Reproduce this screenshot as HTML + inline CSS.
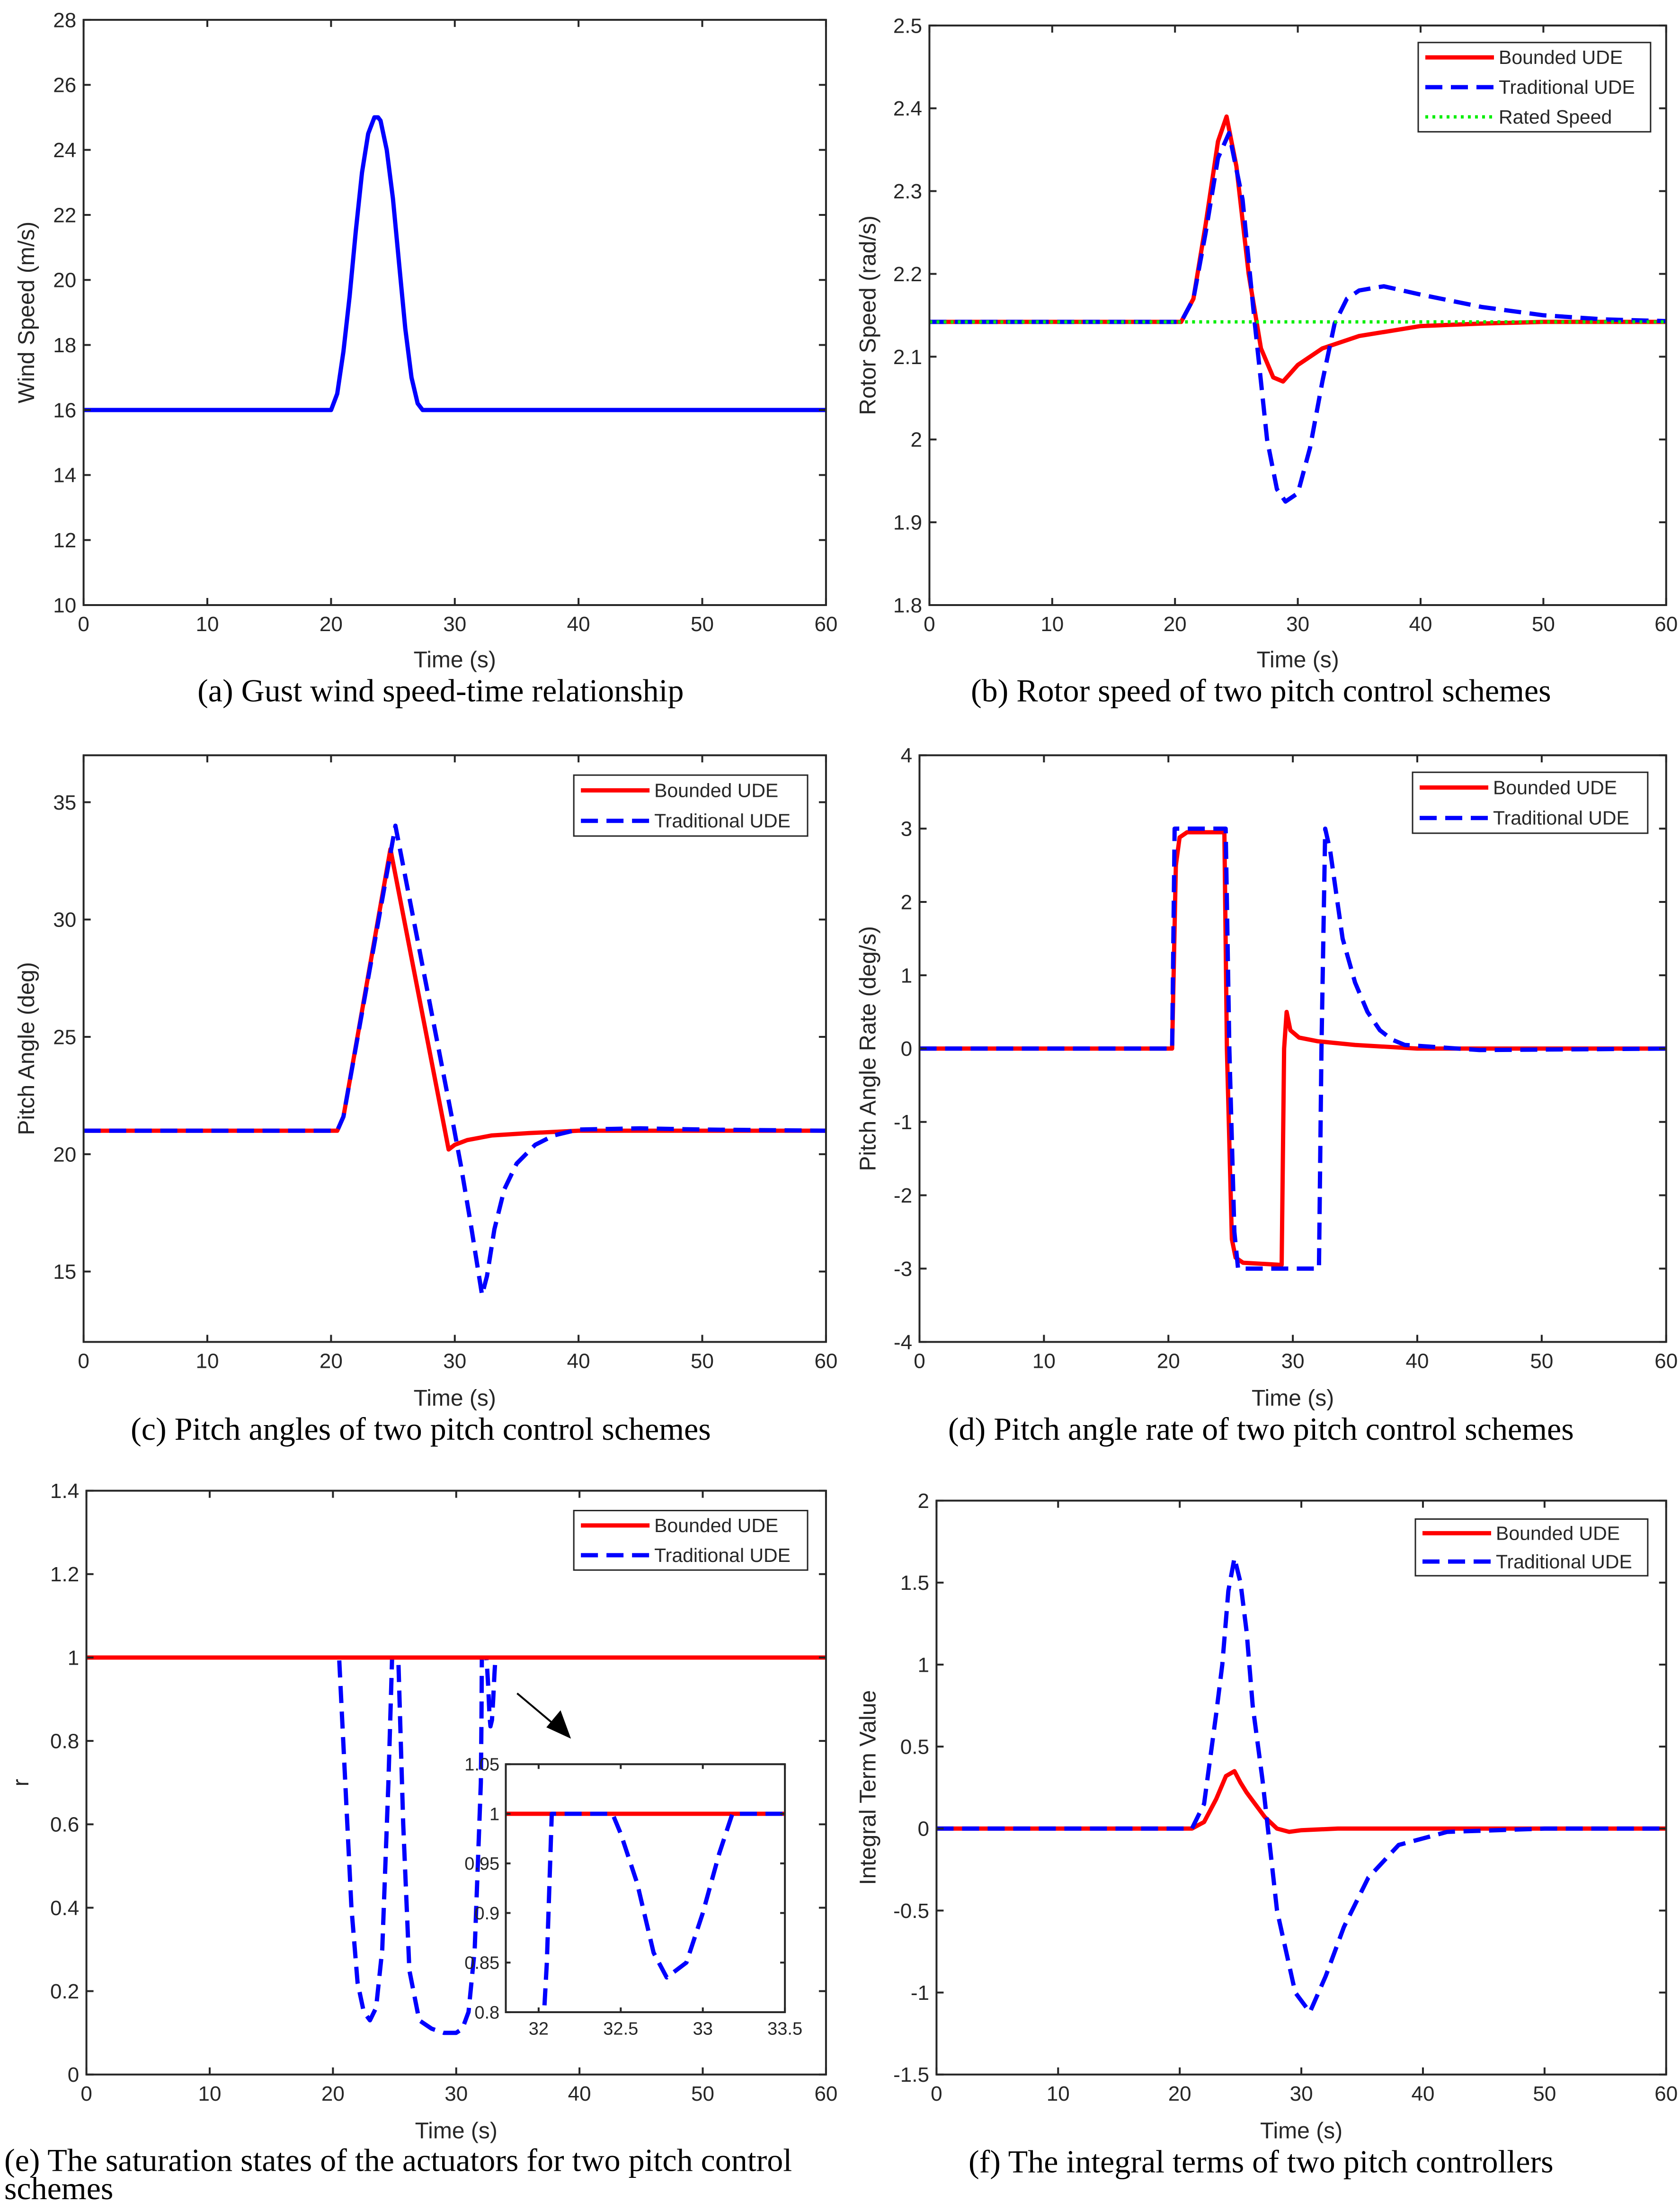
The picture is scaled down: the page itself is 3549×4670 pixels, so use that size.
<!DOCTYPE html>
<html><head><meta charset="utf-8">
<style>
html,body{margin:0;padding:0;background:#fff;overflow:hidden;width:3549px;height:4670px;}
svg{display:block;}
text{font-family:"Liberation Sans",sans-serif;fill:#262626;}
.cap{font-family:"Liberation Serif",serif;fill:#000;}
</style></head>
<body>
<svg id="fig" width="3549" height="4670" viewBox="0 0 3549 4670" xmlns="http://www.w3.org/2000/svg"></svg>
<script>
// ---- data ----
const windT=[0,20,20.5,21,21.5,22,22.5,23,23.5,23.8,24,24.5,25,25.5,26,26.5,27,27.4,60];
const windV=[16,16,16.5,17.8,19.5,21.5,23.3,24.5,25,25,24.9,24,22.5,20.5,18.5,17,16.2,16,16];

const rotBT=[0,20.5,21.5,22.5,23.5,24.2,25,26,27,28,28.8,30,32,35,40,45,50,60];
const rotBV=[2.142,2.142,2.17,2.26,2.36,2.39,2.33,2.2,2.11,2.075,2.07,2.09,2.11,2.125,2.137,2.14,2.142,2.142];
const rotTT=[0,20.5,21.5,22.5,23.5,24.4,25.5,26.5,27.5,28.3,29,30,31,32,33,34,35,37,40,45,50,55,60];
const rotTV=[2.142,2.142,2.17,2.25,2.34,2.37,2.29,2.14,2.0,1.94,1.925,1.935,1.99,2.07,2.14,2.17,2.18,2.185,2.175,2.16,2.15,2.145,2.143];
const ratedT=[0,60];
const ratedV=[2.142,2.142];

const pitBT=[0,20.5,21,24.8,29.5,30,31,33,36,40,60];
const pitBV=[21,21,21.6,33,20.2,20.4,20.6,20.8,20.9,21,21];
const pitTT=[0,20.5,21,25.2,29.9,30.5,31.3,31.9,32.2,32.6,33.2,34,35,36.5,38,40,45,50,60];
const pitTV=[21,21,21.6,34,21.2,19.5,17,15,14,14.8,16.8,18.5,19.6,20.4,20.8,21.05,21.1,21.05,21];

const rateBT=[0,20.3,20.6,20.9,21.5,24.5,24.7,25.1,25.4,26,29.1,29.3,29.5,29.8,30.5,32,35,40,60];
const rateBV=[0,0,2.5,2.88,2.95,2.95,0,-2.6,-2.85,-2.92,-2.95,0,0.5,0.25,0.15,0.1,0.05,0,0];
const rateTT=[0,20.3,20.5,24.6,24.9,25.3,25.6,32.1,32.3,32.6,33,33.5,34,35,36,37,38,39,45,60];
const rateTV=[0,0,3,3,0,-2.5,-3,-3,0,3,2.7,2.1,1.5,0.9,0.5,0.25,0.12,0.05,-0.02,0];

const satBT=[0,60];
const satBV=[1,1];
const satTT=[0,20.5,21,21.5,22,22.5,23,23.5,24,24.5,24.8,25.3,25.7,26.2,27,28,29,30,30.5,31,31.5,32,32.05,32.08,32.45,32.5,32.6,32.7,32.78,32.9,33,33.1,33.18,60];
const satTV=[1,1,0.7,0.4,0.22,0.15,0.13,0.16,0.3,0.7,1,1,0.6,0.25,0.13,0.11,0.1,0.1,0.11,0.15,0.3,0.7,0.85,1,1,0.98,0.93,0.86,0.835,0.85,0.9,0.96,1,1];

const intBT=[0,21,22,23,23.8,24.5,25,25.5,26,27,28,29,30,33,60];
const intBV=[0,0,0.04,0.18,0.32,0.35,0.28,0.22,0.17,0.07,0,-0.02,-0.01,0,0];
const intTT=[0,21,22,23,23.5,24,24.5,25,25.5,26,26.8,28,29.5,30.7,32,33.5,35.5,38,42,50,60];
const intTV=[0,0,0.15,0.7,1.0,1.45,1.65,1.5,1.2,0.75,0.3,-0.5,-1.0,-1.12,-0.9,-0.6,-0.3,-0.1,-0.02,0,0];

const xTicks=[0,10,20,30,40,50,60];
const yTicksA=[10,12,14,16,18,20,22,24,26,28];
const yTicksB=[1.8,1.9,2,2.1,2.2,2.3,2.4,2.5];
const yTicksC=[15,20,25,30,35];
const yTicksD=[-4,-3,-2,-1,0,1,2,3,4];
const yTicksE=[0,0.2,0.4,0.6,0.8,1,1.2,1.4];
const yTicksF=[-1.5,-1,-0.5,0,0.5,1,1.5,2];
const insetXTicks=[32,32.5,33,33.5];
const insetYTicks=[0.8,0.85,0.9,0.95,1,1.05];

// ---- rendering ----
const S=2.993, NS="http://www.w3.org/2000/svg";
const svg=document.getElementById('fig');
function mk(tag,attrs,parent){const e=document.createElementNS(NS,tag);for(const k in attrs)e.setAttribute(k,attrs[k]);(parent||svg).appendChild(e);return e;}
function fmt(v){return String(Math.round(v*1000)/1000);}
let clipId=0;
function axes(o){
  const g=mk('g',{});
  
  
  const L=o.l*S,R=o.r*S,T=o.t*S,B=o.b*S;
  const sx=v=>L+(v-o.x0)/(o.x1-o.x0)*(R-L);
  const sy=v=>B-(v-o.y0)/(o.y1-o.y0)*(B-T);
  const fs=o.fs||44;
  mk('rect',{x:L,y:T,width:R-L,height:B-T,fill:'#fff'},g);
  const cid='c'+(clipId++);
  const cp=mk('clipPath',{id:cid},g);mk('rect',{x:L,y:T,width:R-L,height:B-T},cp);
  const pg=mk('g',{'clip-path':`url(#${cid})`},g);
  for(const s of o.series){
    const d=s.t.map((t,i)=>(i?'L':'M')+sx(t).toFixed(1)+' '+sy(s.v[i]).toFixed(1)).join(' ');
    const p=mk('path',{d:d,fill:'none',stroke:s.c,'stroke-width':s.w||9,'stroke-dasharray':s.dash||'none','stroke-linejoin':'round'},pg);
    
    
  }
  const tl=o.tl||15;
  for(const v of o.xt){const x=sx(v);
    mk('line',{x1:x,y1:B,x2:x,y2:B-tl,stroke:'#262626','stroke-width':4},g);
    mk('line',{x1:x,y1:T,x2:x,y2:T+tl,stroke:'#262626','stroke-width':4},g);
    const t=mk('text',{x:x,y:B+fs*1.25,'font-size':fs,'text-anchor':'middle'},g);t.textContent=fmt(v);
    }
  for(const v of o.yt){const y=sy(v);
    mk('line',{x1:L,y1:y,x2:L+tl,y2:y,stroke:'#262626','stroke-width':4},g);
    mk('line',{x1:R,y1:y,x2:R-tl,y2:y,stroke:'#262626','stroke-width':4},g);
    const t=mk('text',{x:L-fs*0.35,y:y+fs*0.35,'font-size':fs,'text-anchor':'end'},g);t.textContent=fmt(v);
    }
  mk('rect',{x:L,y:T,width:R-L,height:B-T,fill:'none',stroke:'#262626','stroke-width':4},g);
  if(o.xlabel){const t=mk('text',{x:(L+R)/2,y:o.xly*S,'font-size':48,'text-anchor':'middle'},g);t.textContent=o.xlabel;
    }
  if(o.ylabel){const cx=o.ylx*S,cy=(T+B)/2;const t=mk('text',{x:cx,y:cy,'font-size':48,'text-anchor':'middle',transform:`rotate(-90 ${cx} ${cy})`},g);t.textContent=o.ylabel;
    }
  if(o.legend){const lg=o.legend;const lx=lg.l*S,ly=lg.t*S,lw=(lg.r-lg.l)*S,lh=(lg.b-lg.t)*S;
    const gg=mk('g',{},g);
    mk('rect',{x:lx,y:ly,width:lw,height:lh,fill:'#fff',stroke:'#262626','stroke-width':3},gg);
    const n=o.series.length,rh=lh/n;
    o.series.forEach((s,i)=>{const yy=ly+rh*(i+0.5);
      mk('line',{x1:lx+15,y1:yy,x2:lx+160,y2:yy,stroke:s.c,'stroke-width':s.w||9,'stroke-dasharray':s.dash||'none'},gg);
      const t=mk('text',{x:lx+170,y:yy+14,'font-size':41},gg);t.textContent=s.label;
      });
  }
  return g;
}
function caption(txt,x,y,anchor,name){const t=mk('text',{x:x*S,y:y*S,'font-size':68,'text-anchor':anchor||'middle',class:'cap'});t.textContent=txt;
  }

const RED='#ff0000',BLUE='#0000ff',GREEN='#00ee00',DASH='36 18',DOT='6 9';

axes({name:'panel-a-wind-speed',l:59,r:583,t:14,b:427,x0:0,x1:60,y0:10,y1:28,xt:xTicks,yt:yTicksA,xlabel:'Time (s)',xly:471,ylabel:'Wind Speed (m/s)',ylx:24,
  series:[{name:'wind-speed-line',t:windT,v:windV,c:BLUE}]});
caption('(a)  Gust wind speed-time relationship',311,495,'middle','caption-a');

axes({name:'panel-b-rotor-speed',l:656,r:1176,t:18,b:427,x0:0,x1:60,y0:1.8,y1:2.5,xt:xTicks,yt:yTicksB,xlabel:'Time (s)',xly:471,ylabel:'Rotor Speed (rad/s)',ylx:618,
  legend:{l:1001,r:1165,t:30,b:93},
  series:[{name:'bounded-ude-line',label:'Bounded UDE',t:rotBT,v:rotBV,c:RED},
          {name:'traditional-ude-line',label:'Traditional UDE',t:rotTT,v:rotTV,c:BLUE,dash:DASH},
          {name:'rated-speed-line',label:'Rated Speed',t:ratedT,v:ratedV,c:GREEN,dash:DOT,w:7}]});
caption('(b)  Rotor speed of two pitch control schemes',890,495,'middle','caption-b');

axes({name:'panel-c-pitch-angle',l:59,r:583,t:533,b:947,x0:0,x1:60,y0:12,y1:37,xt:xTicks,yt:yTicksC,xlabel:'Time (s)',xly:992,ylabel:'Pitch Angle (deg)',ylx:24,
  legend:{l:405,r:570,t:547,b:590},
  series:[{name:'bounded-ude-line',label:'Bounded UDE',t:pitBT,v:pitBV,c:RED},
          {name:'traditional-ude-line',label:'Traditional UDE',t:pitTT,v:pitTV,c:BLUE,dash:DASH}]});
caption('(c)  Pitch angles of two pitch control schemes',297,1016,'middle','caption-c');

axes({name:'panel-d-pitch-rate',l:649,r:1176,t:533,b:947,x0:0,x1:60,y0:-4,y1:4,xt:xTicks,yt:yTicksD,xlabel:'Time (s)',xly:992,ylabel:'Pitch Angle Rate (deg/s)',ylx:618,
  legend:{l:997,r:1163,t:545,b:588},
  series:[{name:'bounded-ude-line',label:'Bounded UDE',t:rateBT,v:rateBV,c:RED},
          {name:'traditional-ude-line',label:'Traditional UDE',t:rateTT,v:rateTV,c:BLUE,dash:DASH}]});
caption('(d)  Pitch angle rate of two pitch control schemes',890,1016,'middle','caption-d');

axes({name:'panel-e-saturation',l:61,r:583,t:1052,b:1464,x0:0,x1:60,y0:0,y1:1.4,xt:xTicks,yt:yTicksE,xlabel:'Time (s)',xly:1509,ylabel:'r',ylx:20,
  series:[{name:'traditional-ude-line',t:satTT,v:satTV,c:BLUE,dash:DASH},
          {name:'bounded-ude-line',t:satBT,v:satBV,c:RED}]});
(function(){
  const lx=405*S,ly=1066*S,lw=165*S,lh=42*S;
  const gg=mk('g',{});
  mk('rect',{x:lx,y:ly,width:lw,height:lh,fill:'#fff',stroke:'#262626','stroke-width':3},gg);
  [['Bounded UDE',RED,'none'],['Traditional UDE',BLUE,DASH]].forEach((s,i)=>{const yy=ly+lh/2*(i+0.5);
    mk('line',{x1:lx+15,y1:yy,x2:lx+160,y2:yy,stroke:s[1],'stroke-width':9,'stroke-dasharray':s[2]},gg);
    const t=mk('text',{x:lx+170,y:yy+14,'font-size':41},gg);t.textContent=s[0];
    });
})();
(function(){
  const g=mk('g',{});
  const x1=365*S,y1=1195*S,x2=403*S,y2=1227*S;
  mk('line',{x1:x1,y1:y1,x2:x2-14,y2:y2-12,stroke:'#000','stroke-width':4},g);
  mk('polygon',{points:`${x2},${y2} ${x2-52},${y2-24} ${x2-22},${y2-60}`,fill:'#000'},g);
})();
axes({name:'panel-e-inset',l:357,r:554,t:1245,b:1420,x0:31.8,x1:33.5,y0:0.8,y1:1.05,xt:insetXTicks,yt:insetYTicks,fs:38,tl:10,
  series:[{name:'inset-bounded-ude-line',t:satBT,v:satBV,c:RED},
          {name:'inset-traditional-ude-line',t:satTT,v:satTV,c:BLUE,dash:DASH}]});
caption('(e)  The saturation states of the actuators for two pitch control',3,1532,'start','caption-e');
caption('schemes',3,1552,'start','caption-e-2');

axes({name:'panel-f-integral-terms',l:661,r:1176,t:1059,b:1464,x0:0,x1:60,y0:-1.5,y1:2,xt:xTicks,yt:yTicksF,xlabel:'Time (s)',xly:1509,ylabel:'Integral Term Value',ylx:618,
  legend:{l:999,r:1163,t:1072,b:1112},
  series:[{name:'bounded-ude-line',label:'Bounded UDE',t:intBT,v:intBV,c:RED},
          {name:'traditional-ude-line',label:'Traditional UDE',t:intTT,v:intTV,c:BLUE,dash:DASH}]});
caption('(f)  The integral terms of two pitch controllers',890,1533,'middle','caption-f');
</script>
</body></html>
